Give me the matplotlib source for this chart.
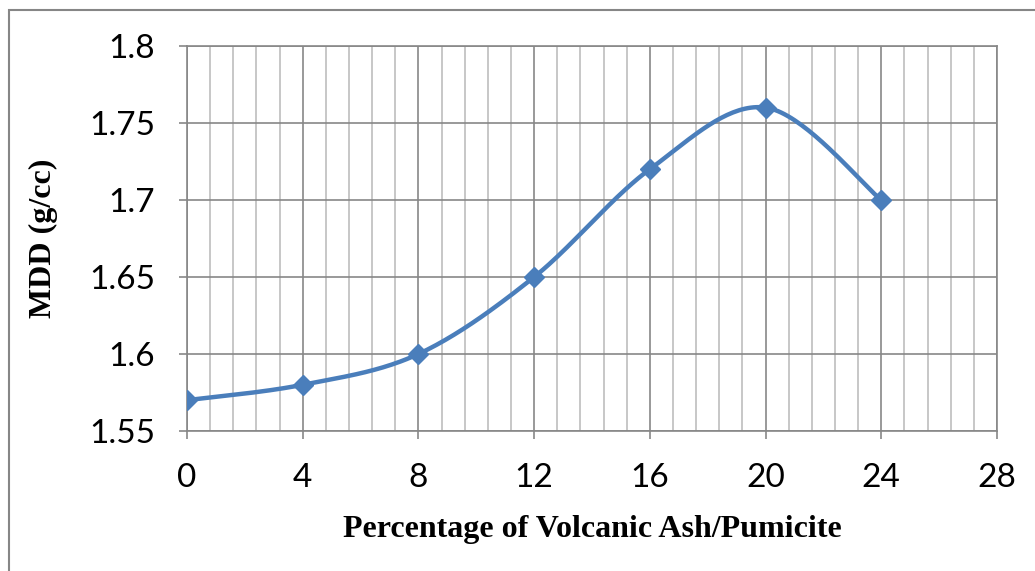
import numpy as np
import matplotlib
matplotlib.use("Agg")
import matplotlib.pyplot as plt
from matplotlib.patches import Rectangle
from matplotlib.ticker import MultipleLocator

pct = [0, 4, 8, 12, 16, 20, 24]
mdd = [1.57, 1.58, 1.60, 1.65, 1.72, 1.76, 1.70]

LINE = "#4A7EBB"
MAJ = "#878787"
MIN = "#BDBDBD"


def smooth(x, y, n=40):
    # Excel-style smoothed line (Catmull-Rom through the points)
    x = np.asarray(x, float); y = np.asarray(y, float)
    px = np.concatenate([[x[0]], x, [x[-1]]])
    py = np.concatenate([[y[0]], y, [y[-1]]])
    xs, ys = [], []
    t = np.linspace(0, 1, n)
    for i in range(1, len(px) - 2):
        p0, p1, p2, p3 = [np.array([px[j], py[j]]) for j in (i - 1, i, i + 1, i + 2)]
        c1 = p1 + (p2 - p0) / 6
        c2 = p2 - (p3 - p1) / 6
        b = ((1 - t) ** 3)[:, None] * p1 + (3 * (1 - t) ** 2 * t)[:, None] * c1 \
            + (3 * (1 - t) * t ** 2)[:, None] * c2 + (t ** 3)[:, None] * p2
        xs.extend(b[:, 0]); ys.extend(b[:, 1])
    return np.array(xs), np.array(ys)


fig = plt.figure(figsize=(10.35, 5.71), dpi=100)
ax = fig.add_axes([187 / 1035, 1 - 431 / 571, 810 / 1035, 385 / 571])

# outer chart border (only left/top visible in the crop)
fig.patches.append(Rectangle((9 / 1035, -0.1), 1.2, 1 - 10 / 571 + 0.1,
                             transform=fig.transFigure, fill=False,
                             edgecolor="#868686", lw=1.5))

sx, sy = smooth(pct, mdd)
ax.plot(sx, sy, color=LINE, lw=3.2, zorder=5, solid_capstyle="round")
ax.plot(pct, mdd, ls="none", marker="D", ms=10.5, color=LINE, zorder=6)

ax.set_xlim(0, 28)
ax.set_ylim(1.55, 1.8)
ax.xaxis.set_major_locator(MultipleLocator(4))
ax.xaxis.set_minor_locator(MultipleLocator(0.8))
ax.set_yticks([1.55, 1.6, 1.65, 1.7, 1.75, 1.8])
ax.set_yticklabels(["1.55", "1.6", "1.65", "1.7", "1.75", "1.8"])

ax.grid(which="major", color=MAJ, lw=1.2)
ax.grid(which="minor", axis="x", color=MIN, lw=1.2)
ax.set_axisbelow(True)
for s in ax.spines.values():
    s.set_color(MAJ); s.set_linewidth(1.2)

ax.tick_params(which="major", length=6, width=1.2, color=MAJ,
               labelsize=24)
ax.tick_params(axis="y", pad=17)
ax.tick_params(axis="x", pad=17)
ax.tick_params(which="minor", length=0)
for tl in ax.get_xticklabels() + ax.get_yticklabels():
    tl.set_fontfamily("Lato")

ax.set_xlabel("Percentage of Volcanic Ash/Pumicite", fontsize=23,
              fontweight="bold", fontfamily="Liberation Serif", labelpad=16)
ax.set_ylabel("MDD (g/cc)", fontsize=23, fontweight="bold",
              fontfamily="Liberation Serif", labelpad=22)

fig.savefig("out.png", dpi=100)
